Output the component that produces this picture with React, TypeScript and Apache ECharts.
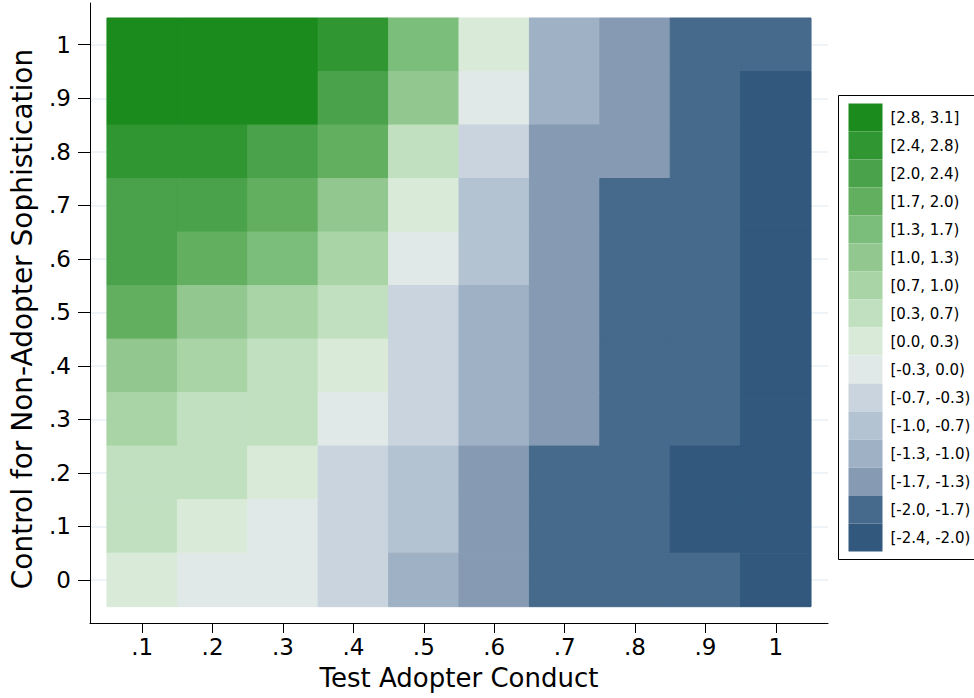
import React, { useEffect, useRef } from "react";
import * as echarts from "echarts";

// Categories (tick positions) and labels
const xValues = [0.1, 0.2, 0.3, 0.4, 0.5, 0.6, 0.7, 0.8, 0.9, 1.0];
const xLabels = [".1", ".2", ".3", ".4", ".5", ".6", ".7", ".8", ".9", "1"];
const yValues = [0, 0.1, 0.2, 0.3, 0.4, 0.5, 0.6, 0.7, 0.8, 0.9, 1.0];
const yLabels = ["0", ".1", ".2", ".3", ".4", ".5", ".6", ".7", ".8", ".9", "1"];

// Cell values, one row per y value from y = 1 (top) down to y = 0 (bottom)
const rowY1 = [2.95, 2.95, 2.95, 2.6, 1.5, 0.15, -1.15, -1.5, -1.85, -1.85];
const rowY09 = [2.95, 2.95, 2.95, 2.2, 1.15, -0.15, -1.15, -1.5, -1.85, -2.2];
const rowY08 = [2.6, 2.6, 2.2, 1.85, 0.5, -0.5, -1.5, -1.5, -1.85, -2.2];
const rowY07 = [2.2, 2.2, 1.85, 1.15, 0.15, -0.85, -1.5, -1.85, -1.85, -2.2];
const rowY06 = [2.2, 1.85, 1.5, 0.85, -0.15, -0.85, -1.5, -1.85, -1.85, -2.2];
const rowY05 = [1.85, 1.15, 0.85, 0.5, -0.5, -1.15, -1.5, -1.85, -1.85, -2.2];
const rowY04 = [1.15, 0.85, 0.5, 0.15, -0.5, -1.15, -1.5, -1.85, -1.85, -2.2];
const rowY03 = [0.85, 0.5, 0.5, -0.15, -0.5, -1.15, -1.5, -1.85, -1.85, -2.2];
const rowY02 = [0.5, 0.5, 0.15, -0.5, -0.85, -1.5, -1.85, -1.85, -2.2, -2.2];
const rowY01 = [0.5, 0.15, -0.15, -0.5, -0.85, -1.5, -1.85, -1.85, -2.2, -2.2];
const rowY00 = [0.15, -0.15, -0.15, -0.5, -1.15, -1.5, -1.85, -1.85, -1.85, -2.2];
const rowsTopDown = [rowY1, rowY09, rowY08, rowY07, rowY06, rowY05, rowY04, rowY03, rowY02, rowY01, rowY00];

// Legend bins (top to bottom)
const binLabels = [
  "[2.8, 3.1]", "[2.4, 2.8)", "[2.0, 2.4)", "[1.7, 2.0)", "[1.3, 1.7)", "[1.0, 1.3)",
  "[0.7, 1.0)", "[0.3, 0.7)", "[0.0, 0.3)", "[-0.3, 0.0)", "[-0.7, -0.3)", "[-1.0, -0.7)",
  "[-1.3, -1.0)", "[-1.7, -1.3)", "[-2.0, -1.7)", "[-2.4, -2.0)",
];
const binLows = [2.8, 2.4, 2.0, 1.7, 1.3, 1.0, 0.7, 0.3, 0.0, -0.3, -0.7, -1.0, -1.3, -1.7, -2.0, -2.4];
const binHighs = [3.1, 2.8, 2.4, 2.0, 1.7, 1.3, 1.0, 0.7, 0.3, 0.0, -0.3, -0.7, -1.0, -1.3, -1.7, -2.0];
const binColors = [
  "#1b8b1d", "#2f9632", "#4aa24a", "#62af60", "#7bbd7a", "#93c790",
  "#a8d4a6", "#c0e0c0", "#d9ebd8", "#e0e9e7", "#c9d4de", "#b3c3d1",
  "#9fb1c4", "#869bb3", "#466a8b", "#32587d",
];

const FONT = "DejaVu Sans";

function fmt(values: number[], labels: string[]) {
  return (v: number) => {
    const i = values.findIndex((t) => Math.abs(t - v) < 1e-6);
    return i >= 0 ? labels[i] : "";
  };
}

export default function App() {
  const ref = useRef<HTMLDivElement>(null);
  useEffect(() => {
    document.body.style.margin = "0";
    const chart = echarts.init(ref.current!, null, { renderer: "svg" });
    const data: number[][] = [];
    const yTopDown = [...yValues].reverse();
    rowsTopDown.forEach((row, r) => {
      row.forEach((z, c) => data.push([xValues[c], yTopDown[r], z]));
    });
    const halfStep = 0.05;
    const pieces = binLabels.map((label, i) => ({
      gte: binLows[i],
      ...(i === 0 ? { lte: binHighs[i] } : { lt: binHighs[i] }),
      label,
      color: binColors[i],
    }));
    chart.setOption({
      animation: false,
      textStyle: { fontFamily: FONT },
      grid: { left: 88, right: 146, top: 3, bottom: 75 },
      xAxis: {
        type: "value",
        min: 0.0259,
        max: 1.0741,
        name: "Test Adopter Conduct",
        nameLocation: "middle",
        nameGap: 42,
        nameTextStyle: { fontSize: 26, color: "#000", fontFamily: FONT },
        axisLine: { show: true, onZero: false, lineStyle: { color: "#000", width: 1 } },
        axisTick: { show: true, length: 10, customValues: xValues, lineStyle: { color: "#000" } },
        axisLabel: {
          customValues: xValues,
          formatter: fmt(xValues, xLabels),
          fontSize: 23,
          color: "#000",
          margin: 12,
          fontFamily: FONT,
        },
        splitLine: { show: false },
      },
      yAxis: {
        type: "value",
        min: -0.0805,
        max: 1.078,
        name: "Control for Non-Adopter Sophistication",
        nameLocation: "middle",
        nameGap: 54,
        nameTextStyle: { fontSize: 28, color: "#000", fontFamily: FONT, padding: [0, 12, 0, 0] },
        axisLine: { show: true, onZero: false, lineStyle: { color: "#000", width: 1 } },
        axisTick: { show: true, length: 12, customValues: yValues, lineStyle: { color: "#000" } },
        axisLabel: {
          customValues: yValues,
          formatter: fmt(yValues, yLabels),
          fontSize: 23,
          color: "#000",
          margin: 19,
          fontFamily: FONT,
        },
        splitLine: { show: true, lineStyle: { color: "#e9f0f4", width: 1.5 } },
      },
      visualMap: {
        type: "piecewise",
        seriesIndex: 0,
        dimension: 2,
        orient: "vertical",
        align: "left",
        left: 838,
        top: 95,
        itemWidth: 34,
        itemHeight: 28,
        itemGap: 0,
        itemSymbol: "rect",
        textGap: 8,
        padding: [8, 10, 8, 10],
        borderColor: "#000",
        borderWidth: 1,
        backgroundColor: "#fff",
        hoverLink: false,
        selectedMode: false,
        showLabel: true,
        textStyle: { fontSize: 15, color: "#000", fontFamily: FONT },
        pieces,
      },
      series: [
        {
          type: "custom",
          data,
          encode: { x: 0, y: 1 },
          renderItem: (params: any, api: any) => {
            const x = api.value(0);
            const y = api.value(1);
            const p1 = api.coord([x - halfStep, y + halfStep]);
            const p2 = api.coord([x + halfStep, y - halfStep]);
            const color = api.visual("color");
            return {
              type: "rect",
              shape: { x: p1[0], y: p1[1], width: p2[0] - p1[0], height: p2[1] - p1[1] },
              style: { fill: color, stroke: color, lineWidth: 1 },
            };
          },
        },
      ],
    });
    return () => chart.dispose();
  }, []);
  return <div ref={ref} style={{ position: "absolute", left: 0, top: 0, width: 974, height: 698 }} />;
}
